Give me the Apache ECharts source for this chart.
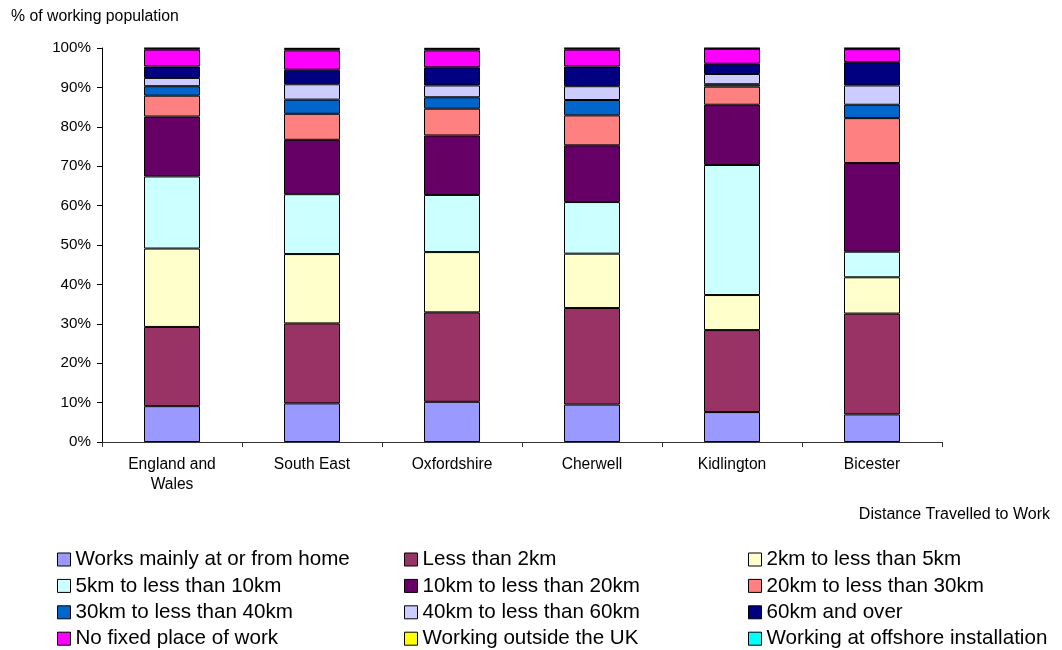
<!DOCTYPE html>
<html>
<head>
<meta charset="utf-8">
<title>Distance Travelled to Work</title>
<script src="https://cdn.jsdelivr.net/npm/echarts@6/dist/echarts.min.js"></script>
<style>
  html, body { margin: 0; padding: 0; background: #fff; }
  #chart { width: 1062px; height: 650px; }
</style>
</head>
<body>
<div id="chart"></div>
<script>
// Areas compared
const areas = ['England and\nWales', 'South East', 'Oxfordshire', 'Cherwell', 'Kidlington', 'Bicester'];

// Share of working population (%) by distance band, one value per area
const worksFromHome   = [9.1, 9.8, 10.2, 9.5, 7.6, 7.0];
const lessThan2km     = [20.1, 20.3, 22.7, 24.5, 20.8, 25.6];
const from2to5km      = [19.9, 17.6, 15.3, 13.8, 8.9, 9.2];
const from5to10km     = [18.3, 15.2, 14.5, 13.1, 33.0, 6.5];
const from10to20km    = [15.2, 13.8, 15.1, 14.4, 15.3, 22.5];
const from20to30km    = [5.3, 6.6, 6.8, 7.6, 4.6, 11.4];
const from30to40km    = [2.4, 3.6, 2.9, 3.9, 0.6, 3.4];
const from40to60km    = [2.1, 3.9, 3.0, 3.5, 2.6, 4.9];
const over60km        = [2.9, 3.7, 4.6, 5.0, 2.6, 5.9];
const noFixedPlace    = [4.3, 4.9, 4.3, 4.3, 3.8, 3.3];
const outsideUK       = [0.3, 0.4, 0.4, 0.3, 0.1, 0.2];
const offshore        = [0.1, 0.2, 0.2, 0.1, 0.1, 0.1];

const seriesNames = [
  'Works mainly at or from home', 'Less than 2km', '2km to less than 5km',
  '5km to less than 10km', '10km to less than 20km', '20km to less than 30km',
  '30km to less than 40km', '40km to less than 60km', '60km and over',
  'No fixed place of work', 'Working outside the UK', 'Working at offshore installation'
];
const seriesValues = [
  worksFromHome, lessThan2km, from2to5km, from5to10km, from10to20km, from20to30km,
  from30to40km, from40to60km, over60km, noFixedPlace, outsideUK, offshore
];
const seriesColors = [
  '#9999FF', '#993366', '#FFFFCC', '#CCFFFF', '#660066', '#FF8080',
  '#0066CC', '#CCCCFF', '#000080', '#FF00FF', '#FFFF00', '#00FFFF'
];

const yTicks = { min: 0, max: 100, step: 10 };

const FONT = "'Liberation Sans', Arial, Helvetica, sans-serif";

const series = seriesNames.map((name, i) => ({
  name: name,
  type: 'bar',
  stack: 'total',
  barWidth: '40%',
  data: seriesValues[i],
  itemStyle: { color: seriesColors[i], borderColor: '#000', borderWidth: 1 },
  emphasis: { disabled: true }
}));

// Legend laid out in three columns, four rows each
const legendLefts = [57, 404, 748];
const legends = legendLefts.map((left, col) => ({
  orient: 'vertical',
  left: left,
  top: 549,
  padding: 0,
  itemWidth: 13,
  itemHeight: 13,
  itemGap: 5.4,
  selectedMode: false,
  icon: 'rect',
  data: seriesNames.filter((_, i) => i % 3 === col),
  itemStyle: { borderColor: '#000', borderWidth: 1 },
  textStyle: { fontFamily: FONT, fontSize: 20.6, color: '#000', lineHeight: 20 }
}));

const chart = echarts.init(document.getElementById('chart'), null, { renderer: 'canvas' });
chart.setOption({
  animation: false,
  backgroundColor: '#fff',
  title: [
    {
      text: '% of working population',
      left: 11, top: 9, padding: 0,
      textStyle: { fontFamily: FONT, fontSize: 15.8, fontWeight: 'normal', color: '#000' }
    },
    {
      text: 'Distance Travelled to Work',
      right: 12, top: 507, padding: 0,
      textStyle: { fontFamily: FONT, fontSize: 16, fontWeight: 'normal', color: '#000' }
    }
  ],
  legend: legends,
  grid: { left: 102, right: 120, top: 48, bottom: 208, containLabel: false },
  xAxis: {
    type: 'category',
    data: areas,
    axisLine: { lineStyle: { color: '#333', width: 1 } },
    axisTick: { show: true, length: 5, inside: false, lineStyle: { color: '#333' } },
    axisLabel: {
      interval: 0, margin: 13, color: '#000',
      fontFamily: FONT, fontSize: 15.6, lineHeight: 20
    },
    splitLine: { show: false }
  },
  yAxis: {
    type: 'value',
    min: yTicks.min, max: yTicks.max, interval: yTicks.step,
    axisLine: { show: true, lineStyle: { color: '#000', width: 1 } },
    axisTick: { show: true, length: 5, inside: false, lineStyle: { color: '#000' } },
    axisLabel: {
      formatter: '{value}%', margin: 11, color: '#000',
      fontFamily: FONT, fontSize: 15.2
    },
    splitLine: { show: false }
  },
  series: series
});
</script>
</body>
</html>
